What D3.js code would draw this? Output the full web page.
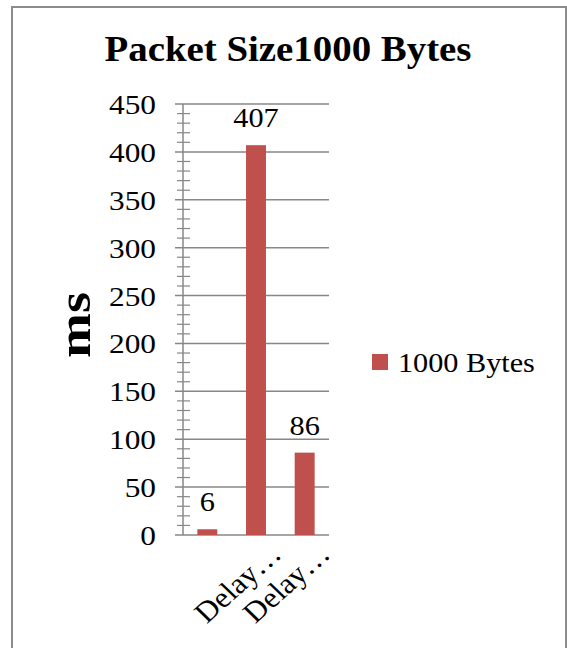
<!DOCTYPE html>
<html>
<head>
<meta charset="utf-8">
<script src="https://cdn.jsdelivr.net/npm/d3@7"></script>
<style>
  html, body { margin: 0; padding: 0; background: #fff; }
  svg { display: block; }
  text { font-family: "Liberation Serif", "Times New Roman", serif; fill: #000; }
</style>
</head>
<body>
<svg id="chart" width="567" height="648"></svg>
<script>
// Chart data
const categories = ["", "Delay…", "Delay…"];
const values = [6, 407, 86];
const seriesName = "1000 Bytes";
const yTicks = [0, 50, 100, 150, 200, 250, 300, 350, 400, 450];
const titleText = "Packet Size1000 Bytes";
const yTitle = "ms";

const svg = d3.select("#chart");
const barColor = "#C0504D";
const gridColor = "#878787";
const sx = 1.08; // slightly wide text rendering

// Outer chart frame
svg.append("rect")
  .attr("x", 12).attr("y", 7)
  .attr("width", 554).attr("height", 660)
  .attr("fill", "none")
  .attr("stroke", "#8c8c8c")
  .attr("stroke-width", 2);

// Title
svg.append("text")
  .attr("transform", `translate(288,61) scale(${sx},1)`)
  .attr("text-anchor", "middle")
  .style("font-size", "36px")
  .style("font-weight", "bold")
  .text(titleText);

// Scales
const plot = { left: 183, right: 329, top: 104, bottom: 535 };
const y = d3.scaleLinear().domain([0, 450]).range([plot.bottom, plot.top]);
const x = d3.scaleBand().domain(d3.range(categories.length))
  .range([plot.left, plot.right]).paddingInner(0.59).paddingOuter(0.295);

// Horizontal gridlines (extend left to form the major ticks)
svg.append("g").selectAll("line").data(yTicks).join("line")
  .attr("x1", plot.left - 8).attr("x2", plot.right)
  .attr("y1", d => y(d)).attr("y2", d => y(d))
  .attr("stroke", gridColor).attr("stroke-width", 1.5);

// Minor ticks every 10 ms, crossing the axis
const minor = d3.range(0, 451, 10).filter(v => v % 50 !== 0);
svg.append("g").selectAll("line").data(minor).join("line")
  .attr("x1", plot.left - 6).attr("x2", plot.left + 7)
  .attr("y1", d => y(d)).attr("y2", d => y(d))
  .attr("stroke", gridColor).attr("stroke-width", 1.2);

// Vertical axis line
svg.append("line")
  .attr("x1", plot.left).attr("x2", plot.left)
  .attr("y1", y(450)).attr("y2", y(0))
  .attr("stroke", gridColor).attr("stroke-width", 1.5);

// Y tick labels
svg.append("g").selectAll("text").data(yTicks).join("text")
  .attr("transform", d => `translate(156,${y(d) + 10}) scale(1.12,1)`)
  .attr("text-anchor", "end")
  .style("font-size", "28px")
  .text(d => d);

// Y axis title
svg.append("text")
  .attr("transform", "translate(90,325) rotate(-90) scale(1.15,1)")
  .attr("text-anchor", "middle")
  .style("font-size", "47px")
  .style("font-weight", "bold")
  .text(yTitle);

// Bars
svg.append("g").selectAll("rect").data(values).join("rect")
  .attr("x", (d, i) => x(i))
  .attr("width", x.bandwidth())
  .attr("y", d => y(d))
  .attr("height", d => y(0) - y(d))
  .attr("fill", barColor);

// Value labels
svg.append("g").selectAll("text").data(values).join("text")
  .attr("transform", (d, i) => `translate(${x(i) + x.bandwidth() / 2},${y(d) - 18}) scale(${sx},1)`)
  .attr("text-anchor", "middle")
  .style("font-size", "28px")
  .text(d => d);

// Category labels, rotated
svg.append("g").selectAll("text").data(categories).join("text")
  .attr("transform", (d, i) => `translate(${x(i) + x.bandwidth() / 2 + 27},556) scale(1.08,1) rotate(-44)`)
  .attr("text-anchor", "end")
  .style("font-size", "29px")
  .text(d => d);

// Legend
svg.append("rect")
  .attr("x", 372).attr("y", 354)
  .attr("width", 16).attr("height", 16)
  .attr("fill", barColor);
svg.append("text")
  .attr("transform", `translate(398,372) scale(${sx},1)`)
  .style("font-size", "28px")
  .text(seriesName);
</script>
</body>
</html>
